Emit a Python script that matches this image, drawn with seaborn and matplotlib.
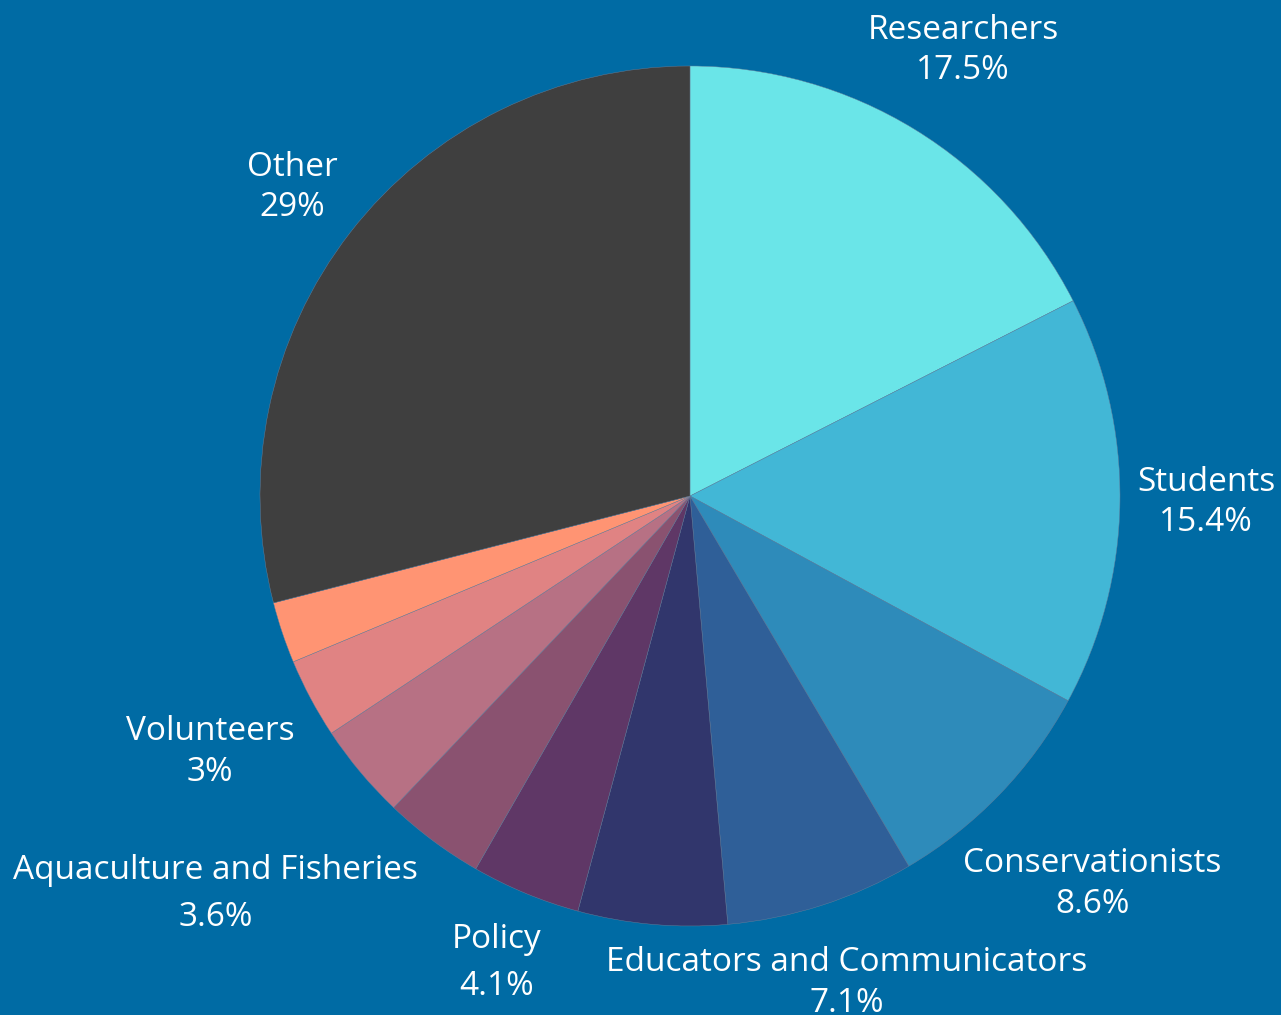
import numpy as np
import matplotlib
matplotlib.use("Agg")
import matplotlib.pyplot as plt
import seaborn as sns

# data (clockwise from 12 o'clock)
categories = ['Researchers', 'Students', 'Conservationists', 'Educators and Communicators',
              'Industry', 'Policy', 'Managers', 'Aquaculture and Fisheries',
              'Volunteers', 'Journalists', 'Other']
shares = [17.5, 15.4, 8.6, 7.1, 5.6, 4.1, 3.8, 3.6, 3.0, 2.3, 29.0]
pct_text = ['17.5%', '15.4%', '8.6%', '7.1%', '5.6%', '4.1%', '3.8%', '3.6%', '3%', '2.3%', '29%']
show_label = [True, True, True, True, False, True, False, True, True, False, True]

# style
colors = ['#6ae5e8', '#42b7d6', '#2e8bba', '#2f5f98', '#31366c', '#5f3766',
          '#8a5270', '#b77184', '#e08383', '#ff9473', '#3f3f3f']
label_dist = [1.215, 1.20, 1.30, 1.19, 1.2, 1.175, 1.2, 1.44, 1.265, 1.2, 1.17]
label_spacing = [1.3, 1.3, 1.3, 1.3, 1.3, 1.55, 1.3, 1.55, 1.3, 1.3, 1.3]
bg = '#006ba4'

sns.set_theme(style="white")
plt.rcParams['font.family'] = ['Open Sans', 'DejaVu Sans']

fig = plt.figure(figsize=(12.81, 10.15), dpi=100, facecolor=bg)
ax = fig.add_axes([0, 0, 1, 1])
ax.set_facecolor(bg)

wedges, _ = ax.pie(shares, colors=colors, startangle=90, counterclock=False,
                   radius=1, center=(0, 0),
                   wedgeprops=dict(linewidth=0.3, edgecolor='#6a7f9a'))

# pie centre at pixel (690, 496), radius 430 px
r_px = 430.0
ax.set_xlim(-690 / r_px, (1281 - 690) / r_px)
ax.set_ylim(-(1015 - 496) / r_px, 496 / r_px)
ax.set_aspect('auto')
ax.axis('off')

for w, name, pct, show, d, ls in zip(wedges, categories, pct_text, show_label,
                                     label_dist, label_spacing):
    if not show:
        continue
    mid = np.deg2rad((w.theta1 + w.theta2) / 2)
    x, y = d * np.cos(mid), d * np.sin(mid)
    ax.text(x, y, f"{name}\n{pct}", ha='center', va='center', color='white',
            fontsize=24, linespacing=ls)

fig.savefig('out.png', dpi=100, facecolor=bg)
